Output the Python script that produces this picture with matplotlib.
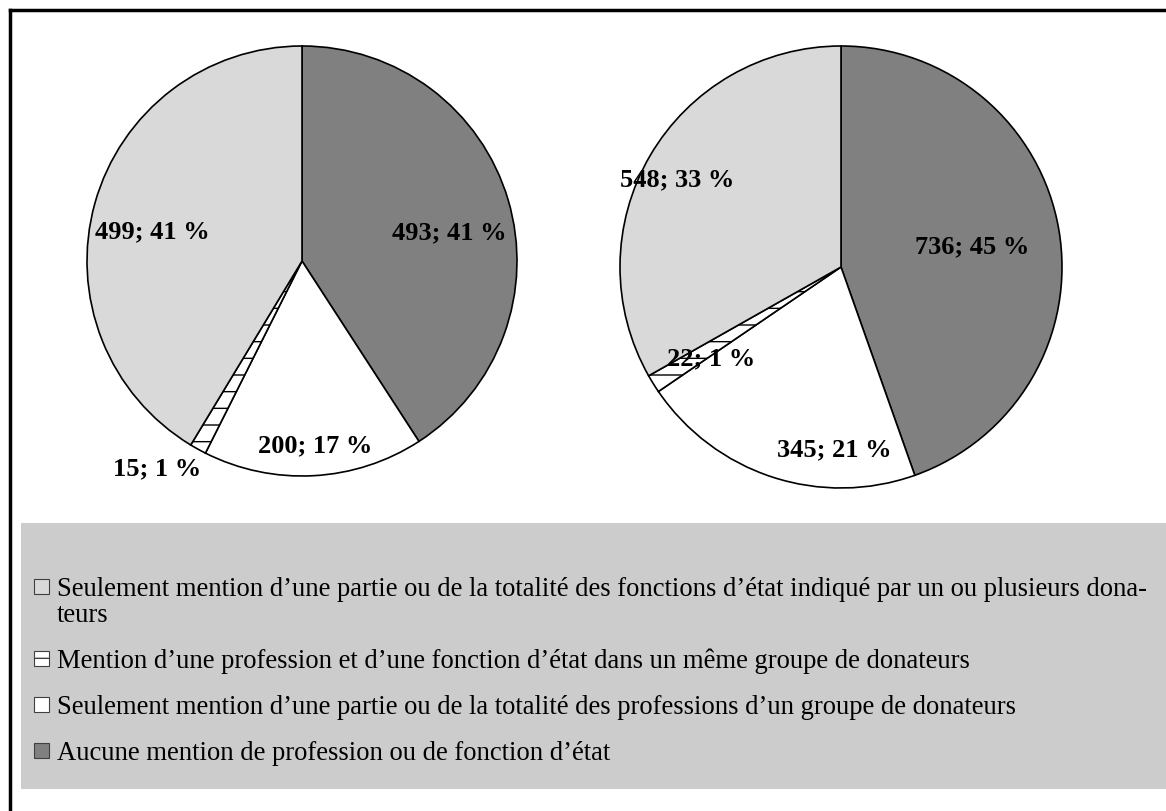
import math
import matplotlib
matplotlib.use("Agg")
import matplotlib.pyplot as plt
from matplotlib.patches import Rectangle
from matplotlib.lines import Line2D

plt.rcParams['font.family'] = ['Liberation Serif', 'DejaVu Serif']
plt.rcParams['hatch.linewidth'] = 1.0

# data
categories = [
    "Aucune mention de profession ou de fonction d\u2019\u00e9tat",
    "Seulement mention d\u2019une partie ou de la totalit\u00e9 des professions d\u2019un groupe de donateurs",
    "Mention d\u2019une profession et d\u2019une fonction d\u2019\u00e9tat dans un m\u00eame groupe de donateurs",
    "Seulement mention d\u2019une partie ou de la totalit\u00e9 des fonctions d\u2019\u00e9tat indiqu\u00e9 par un ou plusieurs dona-\nteurs",
]
pie1_values = [493, 200, 15, 499]
pie2_values = [736, 345, 22, 548]

# style
colors = ['#808080', '#ffffff', '#ffffff', '#d9d9d9']
hatches = [None, None, '-', None]
# label placement: (distance from centre in radii, angle offset from wedge middle in degrees)
label_pos1 = [(0.70, -5.5), (0.86, 1.0), (1.18, -6.0), (0.71, 4.6)]
label_pos2 = [(0.60, -1.0), (0.83, 16.0), (0.72, 3.5), (0.84, 2.2)]

W, H = 1166, 811
fig = plt.figure(figsize=(W / 100, H / 100), dpi=100)


def draw_pie(cx, cy, r, values, label_pos):
    ax = fig.add_axes([(cx - r) / W, (H - cy - r) / H, 2 * r / W, 2 * r / H])
    wedges, _ = ax.pie(values, colors=colors, startangle=90, counterclock=False,
                       wedgeprops=dict(edgecolor='black', linewidth=1.2))
    for w, h in zip(wedges, hatches):
        if h:
            w.set_hatch(h)
    total = sum(values)
    for w, v, (d, off) in zip(wedges, values, label_pos):
        ang = math.radians((w.theta1 + w.theta2) / 2 + off)
        pct = round(100 * v / total)
        ax.text(d * math.cos(ang), d * math.sin(ang), f"{v}; {pct} %",
                ha='center', va='center', fontsize=19, fontweight='bold')
    ax.set_xlim(-1, 1)
    ax.set_ylim(-1, 1)
    ax.set_aspect('equal')
    ax.axis('off')


draw_pie(302, 261, 215, pie1_values, label_pos1)
draw_pie(841, 267, 221, pie2_values, label_pos2)

# legend background
fig.patches.append(Rectangle((21 / W, 1 - 789 / H), 1 - 21 / W, (789 - 523) / H,
                             transform=fig.transFigure, facecolor='#cccccc',
                             edgecolor='none', zorder=0))
# outer border (left and top)
fig.lines.append(Line2D([10 / W, 10 / W], [0, 1 - 10 / H], transform=fig.transFigure,
                        color='black', linewidth=2.5))
fig.lines.append(Line2D([10 / W, 1], [1 - 10 / H, 1 - 10 / H], transform=fig.transFigure,
                        color='black', linewidth=2.5))

# legend entries (top to bottom)
order = [3, 2, 1, 0]
row_y = [586, 658, 704, 750]
for i, y in zip(order, row_y):
    fig.patches.append(Rectangle((34 / W, 1 - (y + 7.5) / H), 15 / W, 15 / H,
                                 transform=fig.transFigure, facecolor=colors[i],
                                 edgecolor='#404040', linewidth=0.8, hatch=hatches[i],
                                 zorder=2))
    for k, line in enumerate(categories[i].split("\n")):
        fig.text(57 / W, 1 - (y + 27 * k) / H, line, fontsize=19.2, ha='left',
                 va='center_baseline', zorder=3)

fig.savefig("out.png", dpi=100)
